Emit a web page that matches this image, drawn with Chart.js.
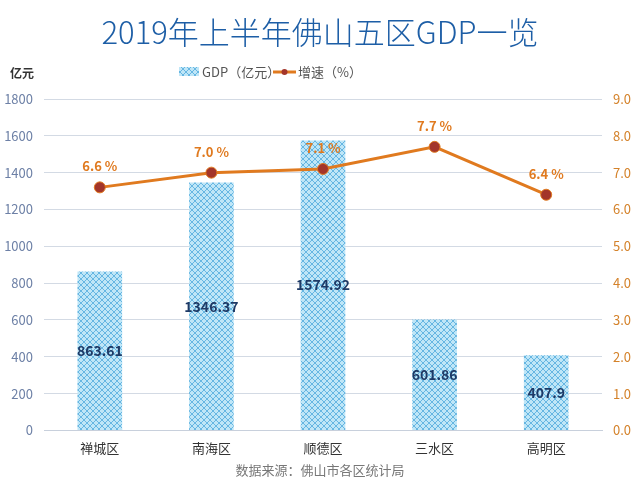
<!DOCTYPE html>
<html>
<head>
<meta charset="utf-8">
<script src="https://cdn.jsdelivr.net/npm/chart.js@4"></script>
<style>
  html, body { margin: 0; padding: 0; background: #fff; }
  #wrap { width: 640px; height: 494px; }
</style>
</head>
<body>
<div id="wrap"><canvas id="myChart" width="640" height="494"></canvas></div>
<script>
const districts = ['禅城区', '南海区', '顺德区', '三水区', '高明区'];
const gdpValues = [863.61, 1346.37, 1574.92, 601.86, 407.9];
const growthValues = [6.6, 7.0, 7.1, 7.7, 6.4];
const gdpLabels = ['863.61', '1346.37', '1574.92', '601.86', '407.9'];
const growthLabels = ['6.6 %', '7.0 %', '7.1 %', '7.7 %', '6.4 %'];

const FONT = '"Noto Sans CJK SC", "Noto Sans", sans-serif';

// crosshatch fill for the bars
function makeHatch() {
    const c = document.createElement('canvas');
    c.width = 6; c.height = 6;
    const g = c.getContext('2d');
    g.fillStyle = '#bfe6f7';
    g.fillRect(0, 0, 6, 6);
    g.strokeStyle = '#4fa9dc';
    g.lineWidth = 0.8;
    g.beginPath();
    g.moveTo(0, 0); g.lineTo(6, 6);
    g.moveTo(6, 0); g.lineTo(0, 6);
    g.stroke();
    return g.createPattern(c, 'repeat');
}

const ctx = document.getElementById('myChart').getContext('2d');
const hatch = makeHatch();

// title, legend, labels and source line
const decor = {
    id: 'decor',
    afterDraw(chart) {
        const c = chart.ctx;
        c.save();
        c.textBaseline = 'middle';
        c.textAlign = 'center';
        c.fillStyle = '#1d5ea6';
        c.font = '300 31px ' + FONT;
        c.fillText('2019年上半年佛山五区GDP一览', 320, 32);

        c.textAlign = 'left';
        c.fillStyle = '#333';
        c.font = 'bold 12px ' + FONT;
        c.fillText('亿元', 10, 73);

        // legend
        c.fillStyle = hatch;
        c.fillRect(179, 67, 20, 9);
        c.fillStyle = '#555';
        c.font = '13px ' + FONT;
        c.fillText('GDP（亿元）', 202, 72);
        c.strokeStyle = '#e07a1f';
        c.lineWidth = 3;
        c.beginPath(); c.moveTo(273, 72); c.lineTo(296, 72); c.stroke();
        c.fillStyle = '#a3352a';
        c.beginPath(); c.arc(284.5, 72, 3, 0, Math.PI * 2); c.fill();
        c.fillStyle = '#555';
        c.fillText('增速（%）', 298, 72);

        // source
        c.textAlign = 'center';
        c.fillStyle = '#777';
        c.font = '13px ' + FONT;
        c.fillText('数据来源：佛山市各区统计局', 320, 470);

        // bar value labels
        const bars = chart.getDatasetMeta(1).data;
        c.fillStyle = '#1e3a66';
        c.font = 'bold 14px ' + FONT;
        bars.forEach((b, i) => {
            c.fillText(gdpLabels[i], b.x, (b.y + b.base) / 2);
        });

        // growth labels
        const pts = chart.getDatasetMeta(0).data;
        c.fillStyle = '#e07a1f';
        c.font = 'bold 13px ' + FONT;
        pts.forEach((p, i) => {
            c.fillText(growthLabels[i], p.x, p.y - 21);
        });
        c.restore();
    }
};

const myChart = new Chart(ctx, {
    data: {
        labels: districts,
        datasets: [{
            type: 'line',
            label: '增速（%）',
            data: growthValues,
            yAxisID: 'y1',
            borderColor: '#e07a1f',
            borderWidth: 3,
            pointBackgroundColor: '#a3352a',
            pointBorderColor: '#e07a1f',
            pointBorderWidth: 1,
            pointRadius: 5.5,
            tension: 0,
            order: 0
        }, {
            type: 'bar',
            label: 'GDP（亿元）',
            data: gdpValues,
            yAxisID: 'y',
            backgroundColor: hatch,
            barPercentage: 0.4,
            categoryPercentage: 1,
            order: 1
        }]
    },
    options: {
        responsive: false,
        animation: false,
        layout: { padding: { top: 99, bottom: 36, left: 0, right: 0 } },
        plugins: { legend: { display: false }, title: { display: false }, tooltip: { enabled: false } },
        scales: {
            x: {
                grid: { display: false },
                border: { color: '#c8d0dc' },
                ticks: { color: '#333', font: { family: FONT, size: 13 }, padding: 2 }
            },
            y: {
                position: 'left',
                min: 0, max: 1800,
                afterFit: s => { s.width = 44; },
                ticks: { stepSize: 200, color: '#6d80a6', font: { family: FONT, size: 13 }, padding: 11,
                    callback: v => String(v) },
                grid: { color: '#d3dae4', drawTicks: false },
                border: { display: false }
            },
            y1: {
                position: 'right',
                min: 0, max: 9,
                afterFit: s => { s.width = 38; },
                ticks: { stepSize: 1, color: '#d4822a', font: { family: FONT, size: 13 }, padding: 11,
                    callback: v => v.toFixed(1) },
                grid: { drawOnChartArea: false, drawTicks: false },
                border: { display: false }
            }
        }
    },
    plugins: [decor]
});
</script>
</body>
</html>
